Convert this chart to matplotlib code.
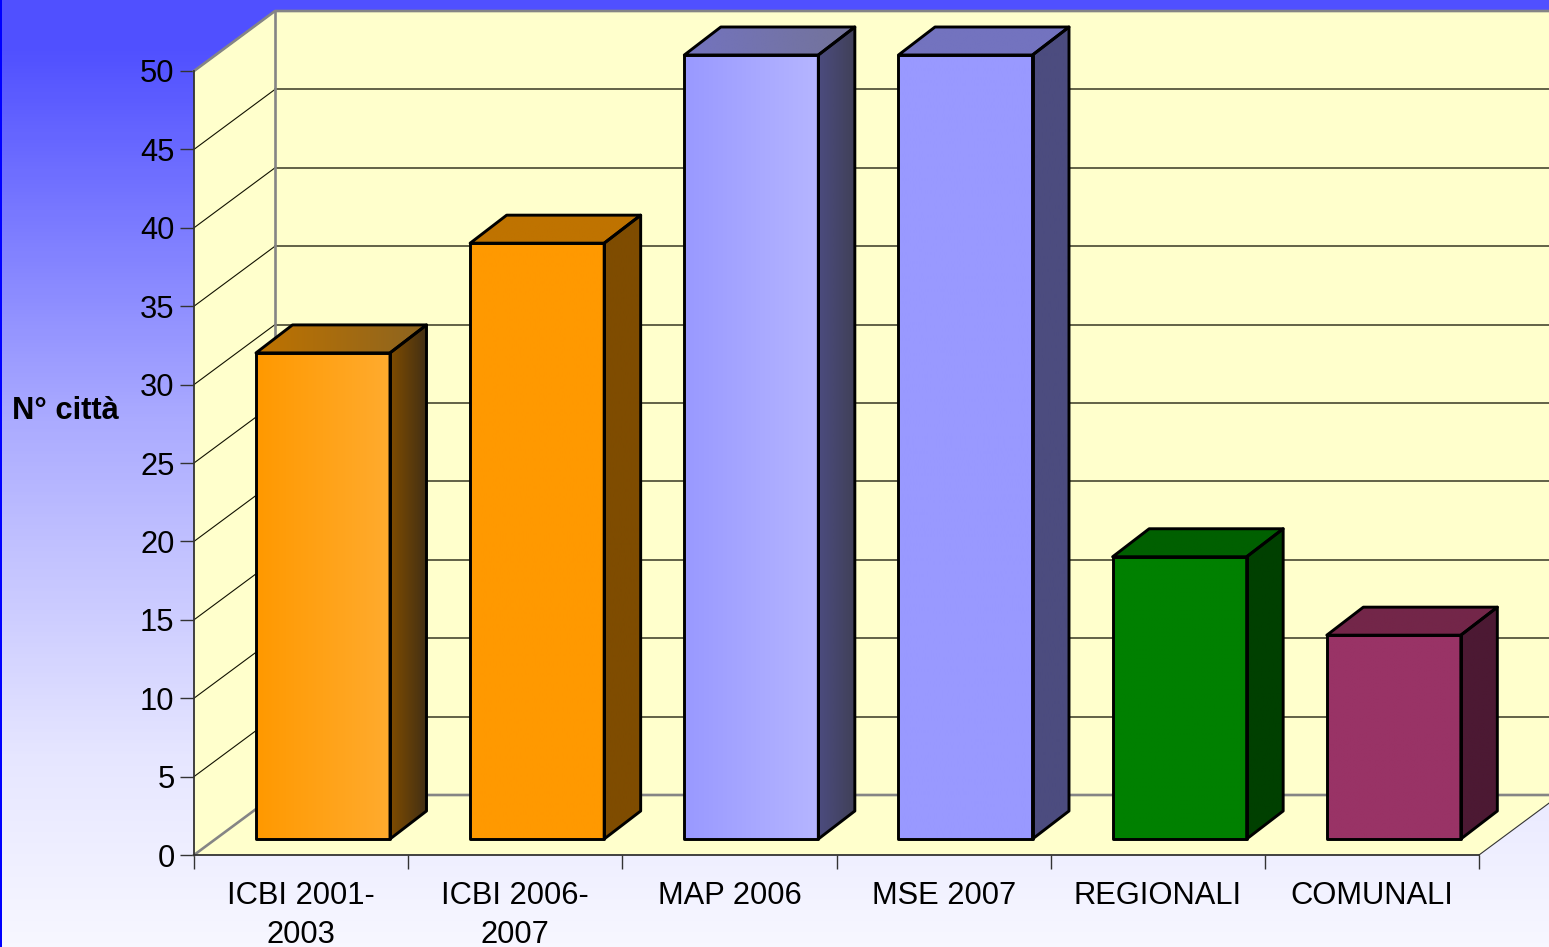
import numpy as np
import matplotlib
matplotlib.use('Agg')
import matplotlib.pyplot as plt
from matplotlib.colors import LinearSegmentedColormap, to_rgb
from matplotlib.patches import Polygon, Rectangle

plt.rcParams['font.family'] = ['Liberation Sans', 'DejaVu Sans']

categories = ['ICBI 2001-\n2003', 'ICBI 2006-\n2007', 'MAP 2006', 'MSE 2007', 'REGIONALI', 'COMUNALI']
values = [31, 38, 50, 50, 18, 13]
y_ticks = [0, 5, 10, 15, 20, 25, 30, 35, 40, 45, 50]
y_label = 'N° città'

# front colour (left, right) of each bar, same colour twice means flat
front_colors = [('#ff9900', '#ffab2e'), ('#ff9900', '#ff9900'), ('#9999ff', '#b5b5ff'),
                ('#9999ff', '#9999ff'), ('#008000', '#008000'), ('#993366', '#993366')]
side_colors = [('#7f4c00', '#422f14'), ('#7f4c00', '#7f4c00'), ('#4c4c7f', '#404058'),
               ('#4c4c7f', '#4c4c7f'), ('#004000', '#004000'), ('#4c1933', '#4c1933')]
top_colors = [('#bf7300', '#8c6420'), ('#bf7300', '#bf7300'), ('#7373bf', '#737399'),
              ('#7373bf', '#7373bf'), ('#006000', '#006000'), ('#732649', '#732649')]

W, H = 1549, 947
L, R, T, B = 194, 1479, 71, 855

fig = plt.figure(figsize=(W / 100, H / 100), dpi=100)

# page background
bg = fig.add_axes([0, 0, 1, 1], zorder=-1)
bg_cmap = LinearSegmentedColormap.from_list('bg', [(0, '#5050ff'), (0.05, '#5050ff'), (0.44, '#aaaaff'),
                                                   (0.8, '#e6e6ff'), (1, '#f7f7ff')])
bg.imshow(np.linspace(0, 1, 256).reshape(-1, 1), cmap=bg_cmap, aspect='auto', extent=[0, 1, 0, 1], vmin=0, vmax=1)
bg.add_patch(Rectangle((0, 0), 2 / W, 1, color='#0000ff', lw=0))
bg.set_xlim(0, 1)
bg.set_ylim(0, 1)
bg.axis('off')

ax = fig.add_axes([L / W, (H - B) / H, (R - L) / W, (B - T) / H])
ax.patch.set_alpha(0)
ax.set_xlim(0, len(categories))
ax.set_ylim(0, 50)

# chart depth in data units
px_x = len(categories) / (R - L)
px_y = 50 / (B - T)
wall_dx, wall_dy = 81 * px_x, 60 * px_y
bar_dx, bar_dy = 36.5 * px_x, 28 * px_y
base_dx, base_dy = 0.0, 16 * px_y
bar_left, bar_w = 62 * px_x, 134 * px_x

n = len(categories)
wall = '#ffffcc'
ax.add_patch(Polygon([(0, 0), (wall_dx, wall_dy), (n + wall_dx, wall_dy), (n + wall_dx, 50 + wall_dy),
                      (wall_dx, 50 + wall_dy), (0, 50)], fc=wall, ec='none', clip_on=False, zorder=1))
ax.add_patch(Polygon([(0, 0), (n, 0), (n + wall_dx, wall_dy), (wall_dx, wall_dy)], fc=wall, ec='none',
                     clip_on=False, zorder=1))

# grid on both walls
for v in y_ticks[1:]:
    ax.plot([0, wall_dx], [v, v + wall_dy], color='#111100', lw=0.8, clip_on=False, zorder=2)
    if v < 50:
        ax.plot([wall_dx, n + wall_dx], [v + wall_dy, v + wall_dy], color='#55553c', lw=1.3, clip_on=False, zorder=2)
gray = '#858585'
ax.plot([wall_dx, wall_dx], [0 + wall_dy, 50 + wall_dy], color=gray, lw=1.9, clip_on=False, zorder=2)
ax.plot([0, wall_dx, n + wall_dx], [50, 50 + wall_dy, 50 + wall_dy], color=gray, lw=1.9, clip_on=False, zorder=2)
ax.plot([0, wall_dx, n + wall_dx], [0, wall_dy, wall_dy], color=gray, lw=1.9, clip_on=False, zorder=2)
ax.plot([n, n + wall_dx], [0, wall_dy], color='#333333', lw=0.8, clip_on=False, zorder=2)


def shade(corners, colors, zorder):
    # polygon filled with a left to right gradient, black outline on top
    corners = np.array(corners)
    poly = Polygon(corners, fc='none', ec='black', lw=2.1, joinstyle='round', clip_on=False, zorder=zorder + 0.5)
    ax.add_patch(poly)
    c0, c1 = to_rgb(colors[0]), to_rgb(colors[1])
    grad = np.linspace(c0, c1, 64).reshape(1, 64, 3)
    im = ax.imshow(grad, aspect='auto', interpolation='bilinear', zorder=zorder,
                   extent=[corners[:, 0].min(), corners[:, 0].max(), corners[:, 1].min(), corners[:, 1].max()])
    im.set_clip_box(fig.bbox)
    im.set_clip_path(poly)


for i, v in enumerate(values):
    x0 = i + bar_left + base_dx
    x1 = x0 + bar_w
    y0 = base_dy
    y1 = base_dy + v
    z = 3 + i
    shade([(x0, y0), (x1, y0), (x1, y1), (x0, y1)], front_colors[i], z)
    shade([(x1, y0), (x1 + bar_dx, y0 + bar_dy), (x1 + bar_dx, y1 + bar_dy), (x1, y1)], side_colors[i], z)
    shade([(x0, y1), (x1, y1), (x1 + bar_dx, y1 + bar_dy), (x0 + bar_dx, y1 + bar_dy)], top_colors[i], z)

ax.set_xlim(0, n)
ax.set_ylim(0, 50)

for side in ['top', 'right']:
    ax.spines[side].set_visible(False)
for side in ['left', 'bottom']:
    ax.spines[side].set_color('#333333')
    ax.spines[side].set_linewidth(1.3)
    ax.spines[side].set_zorder(2.5)

ax.set_yticks(y_ticks)
ax.set_yticklabels([str(v) for v in y_ticks])
ax.tick_params(axis='y', length=10, width=1, color='#333333', labelsize=22.2, pad=4)
ax.set_xticks(np.arange(n + 1))
ax.set_xticklabels([])
ax.tick_params(axis='x', which='major', length=10, width=1, color='#333333')
ax.set_xticks(np.arange(n) + 0.5, minor=True)
ax.set_xticklabels(categories, minor=True, fontsize=22.2, linespacing=1.36)
ax.tick_params(axis='x', which='minor', length=0, pad=19)

fig.text(65 / W, 1 - 411 / H, y_label, fontsize=22.2, fontweight='bold', ha='center', va='center')

fig.savefig('out.png', dpi=100)
